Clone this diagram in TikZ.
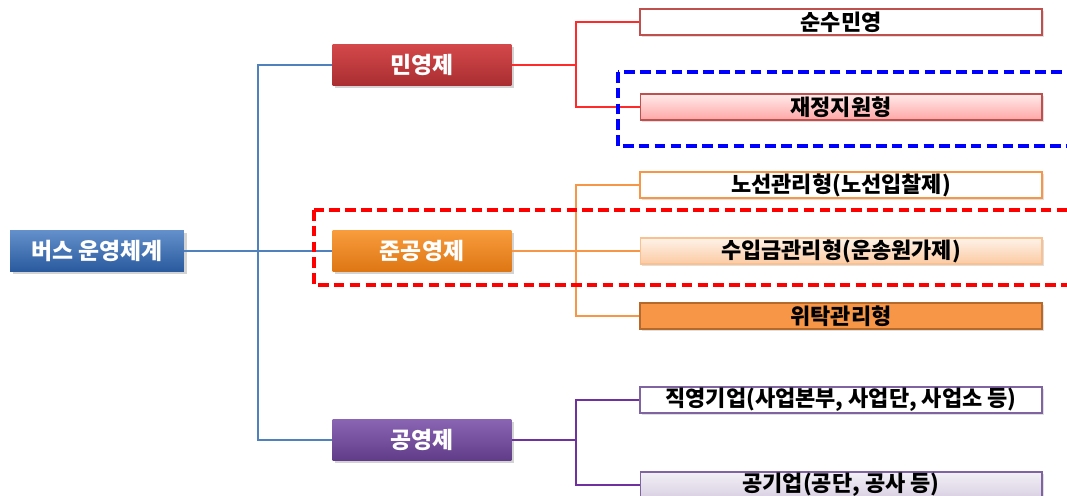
\documentclass[tikz,border=0pt]{standalone}
\usepackage{fontspec}
\setmainfont{Noto Sans CJK KR}
\usetikzlibrary{shadows}

\definecolor{busblue}{HTML}{3C74BE}
\definecolor{busbluedk}{HTML}{2A5A9E}
\definecolor{minred}{HTML}{D4484A}
\definecolor{minreddk}{HTML}{A92E31}
\definecolor{junorange}{HTML}{F89C3C}
\definecolor{junorangedk}{HTML}{DE7614}
\definecolor{gongpurple}{HTML}{8A64B4}
\definecolor{gongpurpledk}{HTML}{603D88}
\definecolor{linkblue}{HTML}{4F81BD}
\definecolor{linkred}{HTML}{FF2A2A}
\definecolor{linkorange}{HTML}{F79646}
\definecolor{linkpurple}{HTML}{7030A0}
\definecolor{leafred}{HTML}{C0504D}
\definecolor{leafpurple}{HTML}{8064A2}
\definecolor{leafbrown}{HTML}{B5692A}

\tikzset{
    head/.style={minimum width=3.58cm, minimum height=0.82cm, inner sep=0pt,
        text=white, font=\fontsize{13}{14}\selectfont\bfseries,
        drop shadow={opacity=0.35, shadow xshift=1.5pt, shadow yshift=-1.5pt}},
    leaf/.style={minimum width=8.04cm, minimum height=0.52cm, inner sep=0pt,
        font=\fontsize{12.5}{13}\selectfont\bfseries,
        drop shadow={opacity=0.25, shadow xshift=1pt, shadow yshift=-1pt}},
    link/.style={line width=0.6pt},
    zone/.style={line width=1.8pt, dash pattern=on 6pt off 3pt}
}

\begin{document}
\begin{tikzpicture}[x=0.02cm, y=-0.02cm]
    \useasboundingbox (0,0) rectangle (1067,496);
    \clip (0,0) rectangle (1067,496);

    % first level
    \node[head, minimum width=3.48cm, top color=busblue!80!white, bottom color=busbluedk] at (97,251) (bus) {버스 운영체계};
    \node[head, top color=minred, bottom color=minreddk] at (422,65) (min) {민영제};
    \node[head, top color=junorange, bottom color=junorangedk] at (422,251) (jun) {준공영제};
    \node[head, top color=gongpurple, bottom color=gongpurpledk] at (422,440) (gong) {공영제};

    % second level
    \node[leaf, draw=leafred, line width=1.5pt, fill=white] at (841,22) (pure) {순수민영};
    \node[leaf, draw=leafred, line width=0.6pt, top color=red!8, bottom color=red!35] at (841,107) (subsidy) {재정지원형};
    \node[leaf, draw=linkorange, line width=1.5pt, fill=white] at (841,185) (route) {노선관리형(노선입찰제)};
    \node[leaf, draw=linkorange!60, line width=0.6pt, top color=linkorange!12, bottom color=linkorange!50] at (841,251) (revenue) {수입금관리형(운송원가제)};
    \node[leaf, draw=leafbrown, line width=1.2pt, fill=linkorange] at (841,316) (consign) {위탁관리형};
    \node[leaf, draw=leafpurple, line width=1.5pt, fill=white] at (841,400) (direct) {직영기업(사업본부, 사업단, 사업소 등)};
    \node[leaf, draw=leafpurple, line width=0.6pt, top color=leafpurple!10, bottom color=leafpurple!30] at (841,485) (public) {공기업(공단, 공사 등)};

    % connectors
    \coordinate (trunk) at (258,251);
    \coordinate (minfork) at (576,65);
    \coordinate (junfork) at (576,251);
    \coordinate (gongfork) at (576,440);

    \draw[link, linkblue] (bus.east) -- (jun.west);
    \draw[link, linkblue] (trunk) |- (min.west);
    \draw[link, linkblue] (trunk) |- (gong.west);

    \draw[link, linkred] (min.east) -- (minfork) |- (pure.west);
    \draw[link, linkred] (minfork) |- (subsidy.west);

    \draw[link, linkorange] (jun.east) -- (revenue.west);
    \draw[link, linkorange] (junfork) |- (route.west);
    \draw[link, linkorange] (junfork) |- (consign.west);

    \draw[link, linkpurple] (gong.east) -- (gongfork) |- (direct.west);
    \draw[link, linkpurple] (gongfork) |- (public.west);

    % highlighted groups
    \draw[zone, blue] (618,72) rectangle (1090,146);
    \draw[zone, red] (314,210) rectangle (1090,285);
\end{tikzpicture}
\end{document}
